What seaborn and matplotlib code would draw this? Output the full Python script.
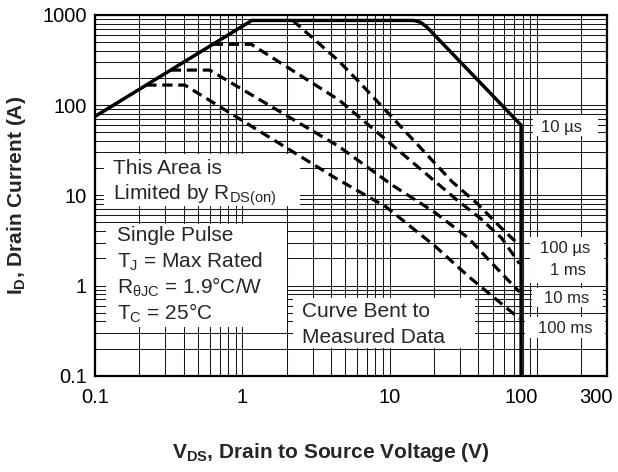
import matplotlib
matplotlib.use("Agg")
import matplotlib.pyplot as plt
import seaborn as sns
from matplotlib.patches import Rectangle
from matplotlib.transforms import ScaledTranslation
from matplotlib.ticker import LogLocator, NullFormatter

# ---------------- data ----------------
envelope_v = [0.1, 1.16, 14.6, 16.2, 17.8, 78.0, 78.0]
envelope_i = [75.0, 870.0, 870.0, 830.0, 740.0, 60.0, 0.1]

us100_v = [2.2, 4.44, 6.3, 12.0, 26.5, 39.0, 57.6, 76.0]
us100_i = [870.0, 317.0, 176.0, 57.0, 14.2, 8.2, 4.3, 2.8]

ms1_v = [0.63, 1.15, 4.54, 20.4, 28.6, 41.2, 57.6, 76.0]
ms1_i = [473.0, 473.0, 114.0, 14.2, 8.9, 5.57, 3.35, 1.75]

ms10_v = [0.327, 0.60, 4.54, 10.4, 19.9, 34.3, 49.4, 76.0]
ms10_i = [245.0, 245.0, 34.7, 13.0, 6.6, 3.35, 1.77, 0.85]

ms100_v = [0.223, 0.407, 4.3, 9.4, 20.5, 34.3, 76.0]
ms100_i = [167.0, 167.0, 15.5, 7.5, 2.7, 1.26, 0.43]

x_ticks = [0.1, 1, 10, 100, 300]
x_tick_labels = ["0.1", "1", "10", "100", "300"]
y_ticks = [0.1, 1, 10, 100, 1000]
y_tick_labels = ["0.1", "1", "10", "100", "1000"]

# ---------------- style ----------------
sns.set_style("white")
plt.rcParams["font.family"] = ["Liberation Sans", "DejaVu Sans"]
plt.rcParams["mathtext.default"] = "regular"

W, H = 618, 472
fig = plt.figure(figsize=(W / 100, H / 100), dpi=100)
L, R, T, B = 95.0, 607.3, 15.0, 375.7
ax = fig.add_axes([L / W, 1 - B / H, (R - L) / W, (B - T) / H])

ax.set_xscale("log")
ax.set_yscale("log")
ax.set_xlim(0.1, 300)
ax.set_ylim(0.1, 1000)

ax.xaxis.set_minor_locator(LogLocator(base=10, subs=range(2, 10), numticks=50))
ax.yaxis.set_minor_locator(LogLocator(base=10, subs=range(2, 10), numticks=50))
ax.xaxis.set_minor_formatter(NullFormatter())
ax.yaxis.set_minor_formatter(NullFormatter())
ax.set_xticks(x_ticks, x_tick_labels)
ax.set_yticks(y_ticks, y_tick_labels)
ax.tick_params(which="both", length=0, labelsize=14.5, colors="black")
ax.tick_params(axis="x", pad=9)
ax.tick_params(axis="y", pad=6)
ax.grid(True, which="both", color="#1a1a1a", lw=0.75)
ax.set_axisbelow(True)
for s in ax.spines.values():
    s.set_color("black")
    s.set_linewidth(1.6)

# shift the 100 / 300 tick labels left as in the reference
labels = ax.get_xticklabels()
labels[3].set_transform(labels[3].get_transform() + ScaledTranslation(-16 / 100, 0, fig.dpi_scale_trans))
labels[4].set_transform(labels[4].get_transform() + ScaledTranslation(-11 / 100, 0, fig.dpi_scale_trans))

def fx(x):
    return (x - L) / (R - L)

def fy(y):
    return (B - y) / (B - T)

def box(x0, y0, x1, y1):
    ax.add_patch(Rectangle((fx(x0), fy(y1)), fx(x1) - fx(x0), fy(y0) - fy(y1),
                           transform=ax.transAxes, facecolor="white",
                           edgecolor="none", zorder=1.5))

# white label boxes
box(104, 154, 300, 206)
box(106, 224, 287, 327)
box(293, 298, 475, 348)
box(533, 115, 598, 136)
box(530, 237, 604, 283)
box(532, 288, 603, 307)
box(525, 317, 605, 338)

# ---------------- curves ----------------
sns.lineplot(x=envelope_v, y=envelope_i, ax=ax, color="black", lw=2.5,
             sort=False, estimator=None, zorder=4)
dash = (0, (3.2, 1.8))
for v, i in [(us100_v, us100_i), (ms1_v, ms1_i), (ms10_v, ms10_i), (ms100_v, ms100_i)]:
    sns.lineplot(x=v, y=i, ax=ax, color="black", lw=2.3, linestyle=dash,
                 sort=False, estimator=None, zorder=3)

# ---------------- texts ----------------
fs = 15
def txt(x, y, s, size=fs, ha="left"):
    ax.text(fx(x), fy(y), s, transform=ax.transAxes, fontsize=size,
            ha=ha, va="baseline", zorder=5)

txt(113, 174, "This Area is")
txt(113, 200, r"Limited by $\mathregular{R_{DS(on)}}$")
txt(117, 240.7, "Single Pulse")
txt(117, 267.7, r"$\mathregular{T_J}$ = Max Rated")
txt(117, 294, r"$\mathregular{R_{θJC}}$ = 1.9°C/W")
txt(117, 320, r"$\mathregular{T_C}$ = 25°C")
txt(302, 316.7, "Curve Bent to")
txt(302, 343, "Measured Data")

rs = 12
txt(561.5, 131.7, "10 µs", rs, "center")
txt(565, 253.3, "100 µs", rs, "center")
txt(567.5, 275, "1 ms", rs, "center")
txt(567, 303.3, "10 ms", rs, "center")
txt(565, 333.3, "100 ms", rs, "center")

ax.set_xlabel(r"$\mathregular{V_{DS}}$, Drain to Source Voltage (V)", fontsize=15, fontweight="bold")
ax.set_ylabel(r"$\mathregular{I_D}$, Drain Current (A)", fontsize=15, fontweight="bold")
ax.xaxis.set_label_coords(fx(331), fy(441))
ax.yaxis.set_label_coords(fx(28), 0.5)

fig.savefig("out.png", dpi=100)
